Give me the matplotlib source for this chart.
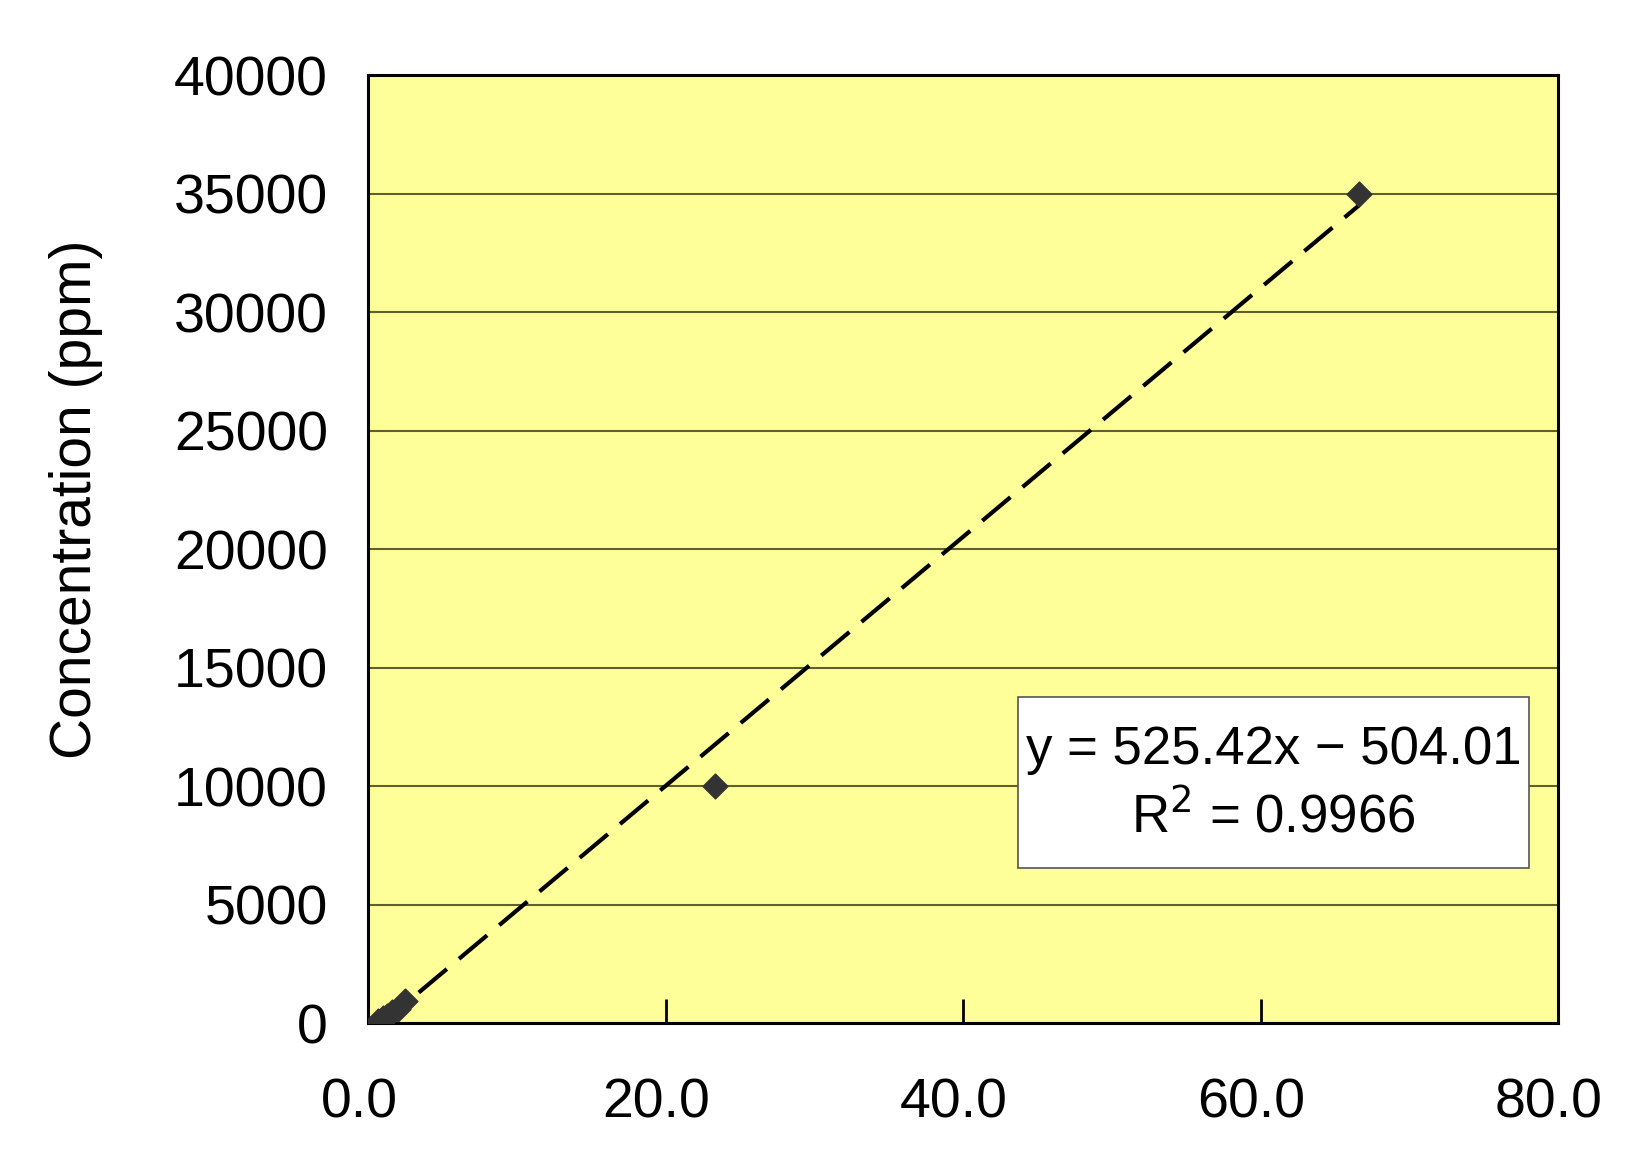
import matplotlib
matplotlib.use("Agg")
import matplotlib.pyplot as plt
import matplotlib.transforms as mtransforms
from matplotlib.patches import Rectangle
import numpy as np

# data
x_vals = [0.7, 1.0, 1.3, 1.6, 2.0, 2.5, 23.3, 66.6]
y_vals = [100, 200, 300, 450, 600, 950, 10000, 35000]
slope = 525.42
intercept = -504.01
eq_text = "y = 525.42x \u2212 504.01\nR$^{2}$ = 0.9966"
x_ticks = [0, 20, 40, 60, 80]
y_ticks = list(range(0, 40001, 5000))
y_label = "Concentration (ppm)"

plt.rcParams['font.family'] = ['Liberation Sans', 'DejaVu Sans']

fig = plt.figure(figsize=(16.52, 11.74), dpi=100)
ax = fig.add_axes([0.2228, 0.1286, 0.7203, 0.8075])
ax.set_facecolor('#FFFF99')

# trendline over data range
xl = np.array([min(x_vals), max(x_vals)])
ax.plot(xl, slope * xl + intercept, color='black', lw=3,
        dashes=(8.8, 3.8), zorder=3)
ax.scatter(x_vals, y_vals, marker='D', s=160, color='#333333', zorder=4)

ax.set_xlim(0, 80)
ax.set_ylim(0, 40000)
ax.set_xticks(x_ticks)
ax.set_xticklabels([f"{v:.1f}" for v in x_ticks])
ax.set_yticks(y_ticks)
ax.set_yticklabels([str(v) for v in y_ticks])
ax.tick_params(axis='x', direction='in', length=17, width=2,
               labelsize=40, pad=39)
ax.tick_params(axis='y', length=0, labelsize=40, pad=29)
ax.yaxis.grid(True, color='#5f5f30', lw=1.5)
ax.set_axisbelow(True)
for s in ax.spines.values():
    s.set_linewidth(2.2)
    s.set_color('black')

# excel puts the x labels a little left of the ticks
shift = mtransforms.ScaledTranslation(-9 / 100, 0, fig.dpi_scale_trans)
for lab in ax.get_xticklabels():
    lab.set_transform(lab.get_transform() + shift)

fig.text(0.046, 0.575, y_label, rotation=90, fontsize=41,
         ha='center', va='center')

# equation box
ax.add_patch(Rectangle((0.546, 0.163), 0.430, 0.181, transform=ax.transAxes,
                       facecolor='white', edgecolor='#555555', lw=1.2,
                       zorder=5))
ax.text(0.761, 0.252, eq_text, transform=ax.transAxes, fontsize=38,
        ha='center', va='center', linespacing=1.38, zorder=6)

fig.savefig("out.png", dpi=100)
